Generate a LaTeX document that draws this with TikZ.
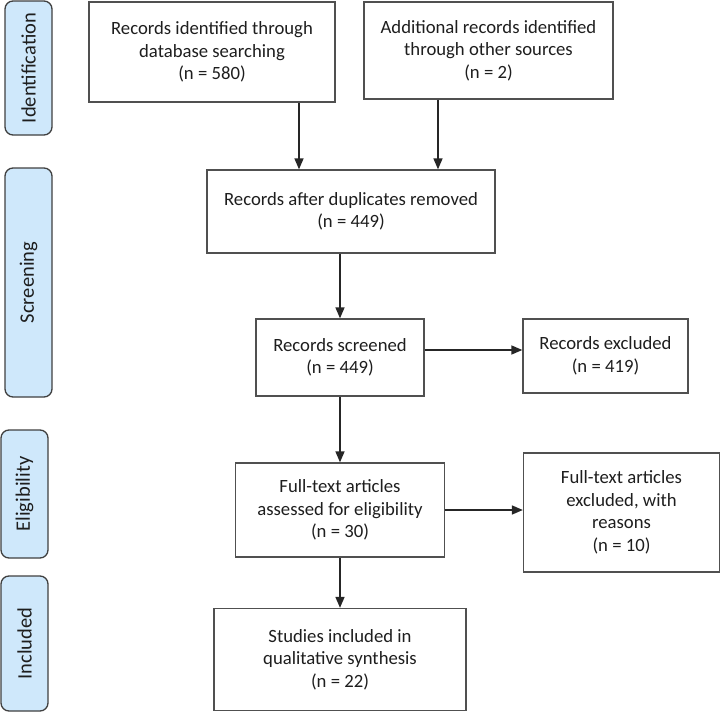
\documentclass[tikz,border=0pt]{standalone}
\usepackage{fontspec}
\setmainfont{Carlito}
\usepackage{tikz}
\usetikzlibrary{arrows.meta}
\definecolor{tabblue}{RGB}{207,232,251}
\definecolor{boxline}{RGB}{80,80,80}
\definecolor{txtgray}{RGB}{30,30,30}
\tikzset{
  every picture/.style={x=1pt, y=-1pt},
  stagebox/.style={draw=boxline, line width=1.3pt, fill=white, inner sep=0pt,
    align=center, text=txtgray, font=\fontsize{18.7}{22.5}\selectfont},
  phasetab/.style={draw=boxline!80!black, line width=1.3pt, fill=tabblue, rounded corners=8pt,
    rotate=90, inner sep=0pt, text=txtgray, font=\fontsize{20.5}{24}\selectfont},
  arr/.style={draw=black!85, line width=1.6pt, -{Triangle[length=11pt,width=9pt]}}
}

\begin{document}
\begin{tikzpicture}
      \useasboundingbox (0,0) rectangle (721,712);

      \node[phasetab, minimum width=134, minimum height=47] (tid) at (28.5,68) {Identification};
      \node[phasetab, minimum width=229, minimum height=47] (tscr) at (28.5,282.5) {Screening};
      \node[phasetab, minimum width=128, minimum height=47] (telig) at (24.5,494) {Eligibility};
      \node[phasetab, minimum width=135, minimum height=47] (tincl) at (24.5,643.5) {Included};

      \node[stagebox, minimum width=246, minimum height=100] (dbase) at (212,52)
        {Records identified through\\database searching\\(n = 580)};
      \node[stagebox, minimum width=249, minimum height=97] (other) at (488.5,50.5)
        {Additional records identified\\through other sources\\(n = 2)};
      \node[stagebox, minimum width=288, minimum height=83] (dedup) at (351,211.5)
        {Records after duplicates removed\\(n = 449)};
      \node[stagebox, minimum width=168, minimum height=77] (screen) at (340,357.5)
        {Records screened\\(n = 449)};
      \node[stagebox, minimum width=165, minimum height=74] (rexcl) at (605.5,356)
        {Records excluded\\(n = 419)};
      \node[stagebox, minimum width=209, minimum height=94] (fulltxt) at (340,510)
        {Full-text articles\\assessed for eligibility\\(n = 30)};
      \node[stagebox, minimum width=196, minimum height=119] (fexcl) at (621.5,512.5)
        {Full-text articles\\excluded, with\\reasons\\(n = 10)};
      \node[stagebox, minimum width=252, minimum height=102] (incl) at (340,659.5)
        {Studies included in\\qualitative synthesis\\(n = 22)};

      \coordinate (j1) at (299,0);
      \coordinate (j2) at (438,0);
      \coordinate (h1) at (0,350);

      \draw[arr] (j1 |- dbase.south) -- (j1 |- dedup.north);
      \draw[arr] (j2 |- other.south) -- (j2 |- dedup.north);
      \draw[arr] (dedup.south -| screen.north) -- (screen.north);
      \draw[arr] (screen.east |- h1) -- (rexcl.west |- h1);
      \draw[arr] (screen.south) -- (fulltxt.north);
      \draw[arr] (fulltxt.east) -- (fexcl.west |- fulltxt.east);
      \draw[arr] (fulltxt.south) -- (incl.north);
\end{tikzpicture}
\end{document}
